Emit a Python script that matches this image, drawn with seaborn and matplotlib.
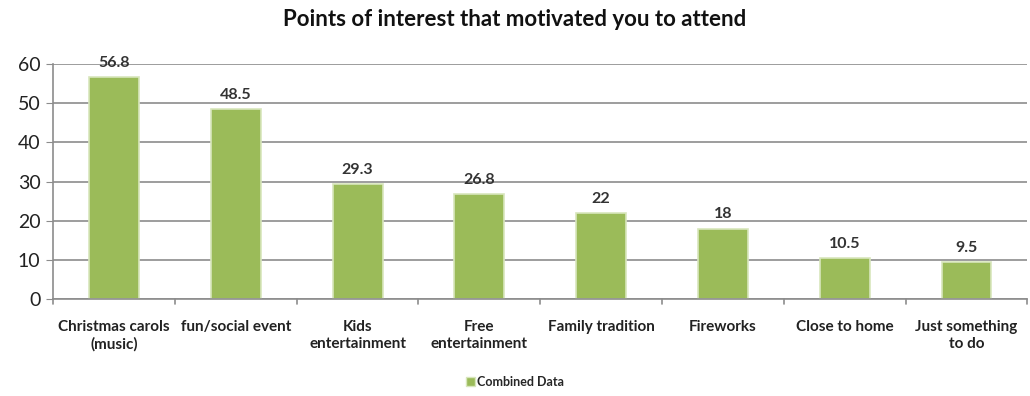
import matplotlib
matplotlib.use("Agg")
import matplotlib.pyplot as plt
import seaborn as sns
import pandas as pd
from matplotlib.patches import Patch

categories = ["Christmas carols\n(music)", "fun/social event", "Kids\nentertainment",
              "Free\nentertainment", "Family tradition", "Fireworks",
              "Close to home", "Just something\nto do"]
values = [56.8, 48.5, 29.3, 26.8, 22, 18, 10.5, 9.5]
value_labels = ["56.8", "48.5", "29.3", "26.8", "22", "18", "10.5", "9.5"]
yticks = [0, 10, 20, 30, 40, 50, 60]
title = "Points of interest that motivated you to attend"
legend_label = "Combined Data"

sns.set_style("white")
plt.rcParams['font.family'] = ['Lato', 'DejaVu Sans']

df = pd.DataFrame({"cat": categories, "val": values})

fig = plt.figure(figsize=(10.30, 3.96), dpi=100)
ax = fig.add_axes([0.0515, 0.245, 0.946, 0.593])

green = "#9BBB59"
sns.barplot(data=df, x="cat", y="val", color=green, width=0.41, ax=ax,
            edgecolor="#D8E6BC", linewidth=1.2, saturation=1)

ax.set_ylim(0, 60)
ax.set_xlim(-0.5, len(categories) - 0.5)
ax.set_yticks(yticks)
ax.set_yticklabels([str(t) for t in yticks], fontsize=14, color="#222222")
ax.yaxis.grid(True, color="#8C8C8C", linewidth=1.2)
ax.set_axisbelow(True)
ax.set_xlabel("")
ax.set_ylabel("")
ax.set_xticks(range(len(categories)))
ax.set_xticklabels(categories, fontsize=11, fontweight="bold", color="#222222", linespacing=1.3)
ax.tick_params(axis="x", length=0, pad=15)
ax.tick_params(axis="y", length=5, color="#8C8C8C", left=True, pad=4)

# category boundary tick marks
for b in range(len(categories) + 1):
    ax.plot([b - 0.5, b - 0.5], [0, -1.3], color="#8C8C8C", lw=1.2, clip_on=False)

for s in ["top", "right"]:
    ax.spines[s].set_visible(False)
ax.spines["left"].set_color("#8C8C8C")
ax.spines["bottom"].set_color("#8C8C8C")
ax.spines["left"].set_linewidth(1.2)
ax.spines["bottom"].set_linewidth(1.2)

for i, (v, lab) in enumerate(zip(values, value_labels)):
    ax.text(i, v + 1.8, lab, ha="center", va="bottom", fontsize=11.5,
            fontweight="bold", color="#333333")

fig.text(0.5, 0.952, title, ha="center", va="center", fontsize=16,
         fontweight="bold", color="#111111")

handles = [Patch(facecolor=green, edgecolor="#D8E6BC", label=legend_label)]
fig.legend(handles=handles, loc="center", bbox_to_anchor=(0.5, 0.035), frameon=False,
           prop={"size": 9, "weight": "bold"}, handlelength=0.7, handleheight=0.7,
           handletextpad=0.2)

fig.savefig("out.png", dpi=100)
